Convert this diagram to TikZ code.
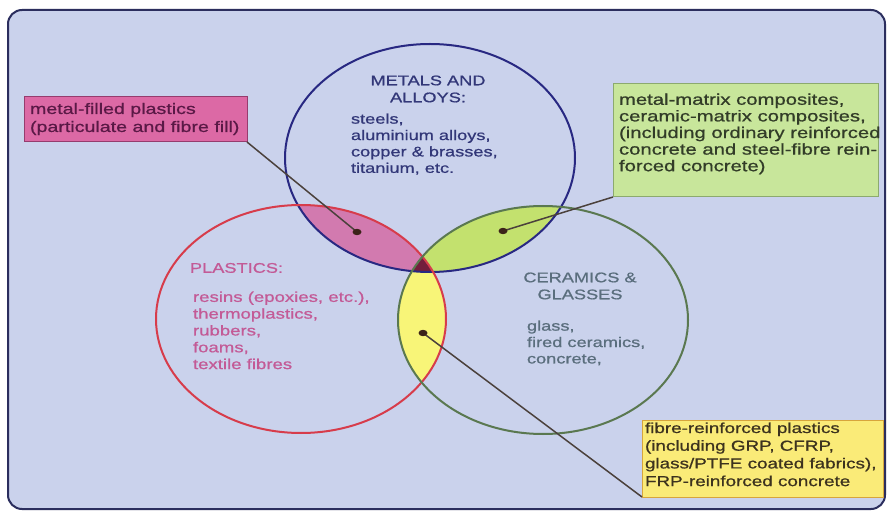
\documentclass[tikz,border=0pt]{standalone}
\usepackage{fontspec}
\newfontfamily\lab{Liberation Sans}[FakeStretch=1.3,FakeBold=0.8]
\definecolor{bgfill}{RGB}{202,210,236}
\definecolor{bgline}{RGB}{43,46,94}
\definecolor{blueline}{RGB}{40,40,130}
\definecolor{redline}{RGB}{215,60,75}
\definecolor{greenline}{RGB}{90,120,80}
\definecolor{lenspink}{RGB}{210,122,175}
\definecolor{lensgreen}{RGB}{195,225,110}
\definecolor{lensyellow}{RGB}{248,245,120}
\definecolor{lenstriple}{RGB}{115,30,60}
\definecolor{pinkbox}{RGB}{220,105,165}
\definecolor{pinkboxline}{RGB}{150,60,110}
\definecolor{greenbox}{RGB}{200,230,155}
\definecolor{greenboxline}{RGB}{140,170,110}
\definecolor{yellowbox}{RGB}{250,235,120}
\definecolor{yellowboxline}{RGB}{215,165,60}
\definecolor{connc}{RGB}{75,65,60}
\definecolor{dotc}{RGB}{60,35,25}
\definecolor{metaltext}{RGB}{50,55,120}
\definecolor{plastictext}{RGB}{195,90,150}
\definecolor{ceramictext}{RGB}{90,110,125}
\definecolor{pinktext}{RGB}{90,25,70}
\definecolor{greentext}{RGB}{50,60,40}
\definecolor{yellowtext}{RGB}{60,50,30}
\begin{document}
\begin{tikzpicture}[x=1pt,y=-1pt,
  every node/.style={inner sep=0pt, outer sep=0pt},
  circtext/.style={font=\lab\fontsize{14}{16.4}\selectfont, align=left, anchor=north west},
  headtext/.style={font=\lab\fontsize{14}{17}\selectfont, align=center, anchor=north},
  boxtext/.style={font=\lab\fontsize{15}{17.5}\selectfont, align=left, anchor=north west},
  infobox/.style={draw, line width=1pt, anchor=north west},
  ringline/.style={line width=2pt},
  conn/.style={draw=connc, line width=1.5pt},
  dotmark/.style={fill=dotc}
]
\useasboundingbox (0,0) rectangle (889,513);
\fill[white] (0,0) rectangle (889,513);
\draw[draw=bgline, fill=bgfill, rounded corners=14pt, line width=2pt] (8,10) rectangle (885,509);

% lens fills
\begin{scope}
  \clip (430,158) ellipse [x radius=145pt, y radius=114pt];
  \fill[lenspink] (301,319) ellipse [x radius=145pt, y radius=114pt];
  \fill[lensgreen] (543,320) ellipse [x radius=145pt, y radius=114pt];
\end{scope}
\begin{scope}
  \clip (301,319) ellipse [x radius=145pt, y radius=114pt];
  \fill[lensyellow] (543,320) ellipse [x radius=145pt, y radius=114pt];
\end{scope}
\begin{scope}
  \clip (430,158) ellipse [x radius=145pt, y radius=114pt];
  \clip (301,319) ellipse [x radius=145pt, y radius=114pt];
  \fill[lenstriple] (543,320) ellipse [x radius=145pt, y radius=114pt];
\end{scope}

% ellipse outlines
\draw[ringline, draw=blueline] (430,158) ellipse [x radius=145pt, y radius=114pt];
\draw[ringline, draw=redline] (301,319) ellipse [x radius=145pt, y radius=114pt];
\draw[ringline, draw=greenline] (543,320) ellipse [x radius=145pt, y radius=114pt];

% circle texts
\node[headtext, text=metaltext] (mhead) at (428,75.5) {METALS AND\\ALLOYS:};
\node[circtext, text=metaltext] (mlist) at (351,113.5) {steels,\\aluminium alloys,\\copper \& brasses,\\titanium, etc.};
\node[circtext, text=plastictext] (phead) at (190,263) {PLASTICS:};
\node[circtext, text=plastictext, font=\lab\fontsize{14.3}{16.8}\selectfont] (plist) at (193,291.5) {resins (epoxies, etc.),\\thermoplastics,\\rubbers,\\foams,\\textile fibres};
\node[headtext, text=ceramictext] (chead) at (580,272.5) {CERAMICS \&\\GLASSES};
\node[circtext, text=ceramictext] (clist) at (527,320.5) {glass,\\fired ceramics,\\concrete,};

% boxes
\node[infobox, draw=pinkboxline, fill=pinkbox, minimum width=223pt, minimum height=45pt] (pbox) at (24,97) {};
\node[infobox, draw=greenboxline, fill=greenbox, minimum width=265pt, minimum height=113pt] (gbox) at (613,84) {};
\node[infobox, draw=yellowboxline, fill=yellowbox, minimum width=241pt, minimum height=77pt] (ybox) at (642,420) {};

% dots
\coordinate (dp) at (357,232);
\coordinate (dg) at (503,231);
\coordinate (dy) at (423,333);

% connectors
\draw[conn] (pbox.south east) -- (dp);
\draw[conn] (gbox.south west) -- (dg);
\draw[conn] (dy) -- (ybox.south west);

\fill[dotmark] (dp) ellipse [x radius=4.5pt, y radius=3.2pt];
\fill[dotmark] (dg) ellipse [x radius=4.5pt, y radius=3.2pt];
\fill[dotmark] (dy) ellipse [x radius=4.5pt, y radius=3.2pt];

% box texts
\node[boxtext, text=pinktext, font=\lab\fontsize{15.1}{18}\selectfont] (ptext) at (30,103) {metal-filled plastics\\(particulate and fibre fill)};
\node[boxtext, text=greentext, font=\lab\fontsize{15.6}{16.6}\selectfont] (gtext) at (619,93.5) {metal-matrix composites,\\ceramic-matrix composites,\\(including ordinary reinforced\\concrete and steel-fibre rein-\\forced concrete)};
\node[boxtext, text=yellowtext, font=\lab\fontsize{14.5}{17.7}\selectfont] (ytext) at (645,422.5) {fibre-reinforced plastics\\(including GRP, CFRP,\\glass/PTFE coated fabrics),\\FRP-reinforced concrete};
\end{tikzpicture}
\end{document}
